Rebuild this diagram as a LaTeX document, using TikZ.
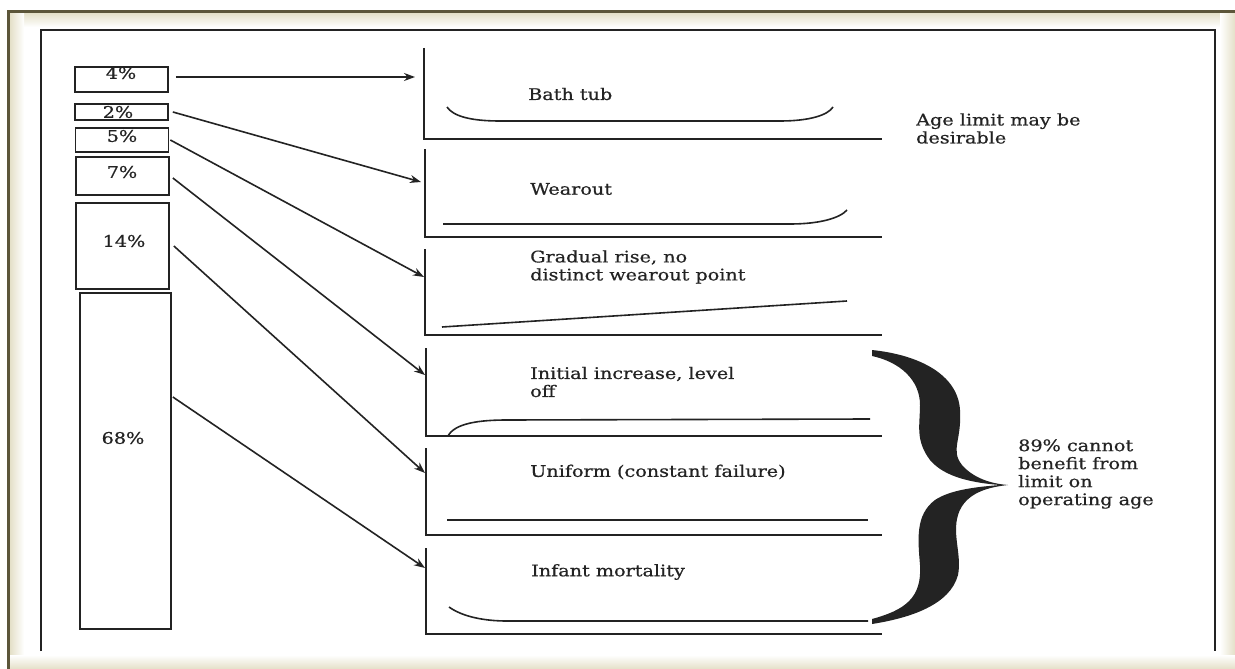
\documentclass[tikz,border=0pt]{standalone}
\usepackage{fontspec}
\setmainfont[FakeStretch=1.2,FakeBold=0.6]{DejaVu Serif}
\usetikzlibrary{arrows.meta}
\definecolor{frameolive}{RGB}{92,86,58}
\definecolor{framebeige}{RGB}{228,224,200}
\definecolor{ink}{RGB}{35,35,35}

\begin{document}
\begin{tikzpicture}[x=1pt,y=-1pt,
  pbox/.style={draw=ink,line width=1.7pt,minimum width=93pt,inner sep=0pt},
  lbl/.style={text=ink,font=\fontsize{16}{18}\selectfont,inner sep=0pt},
  txt/.style={lbl,anchor=west,align=left},
  ax/.style={draw=ink,line width=1.9pt},
  crv/.style={draw=ink,line width=1.6pt},
  arr/.style={draw=ink,line width=1.6pt,-{Stealth[length=11pt,width=8pt]}}]
\useasboundingbox (0,0) rectangle (1235,669);
% frame round the page
\fill[white] (0,0) rectangle (1235,669);
\shade[top color=framebeige,bottom color=white] (10,13) rectangle (1235,27);
\shade[left color=framebeige,right color=white] (10,13) rectangle (24,669);
\shade[left color=white,right color=framebeige] (1220,13) rectangle (1235,669);
\shade[top color=white,bottom color=framebeige] (10,655) rectangle (1235,669);
\fill[white] (24,27) rectangle (1220,655);
\fill[frameolive] (7,10) rectangle (1235,13);
\fill[frameolive] (7,10) rectangle (10,669);
\draw[ink,line width=1.5pt] (41,651) -- (41,30) -- (1215,30) -- (1215,651);

% share boxes
\node[pbox,minimum height=25pt] (b4) at (121.5,79.5) {};
\node[pbox,minimum height=16pt] (b2) at (121.5,112) {};
\node[pbox,minimum height=24pt] (b5) at (122,140) {};
\node[pbox,minimum height=38pt] (b7) at (122.5,176) {};
\node[pbox,minimum height=86pt] (b14) at (122.5,246) {};
\node[pbox,minimum height=336pt,minimum width=91pt] (b68) at (125.5,461) {};
\node[lbl] (p4) at (121,73) {4\%};
\node[lbl] (p2) at (118,112) {2\%};
\node[lbl] (p5) at (122,136) {5\%};
\node[lbl] (p7) at (122,172) {7\%};
\node[lbl] (p14) at (124,241) {14\%};
\node[lbl] (p68) at (123,438) {68\%};

% failure patterns
\draw[ax] (424,48) -- (424,139) -- (882,139);
\draw[ax] (425,149) -- (425,237) -- (882,237);
\draw[ax] (425,249) -- (425,335) -- (882,335);
\draw[ax] (426,348) -- (426,436) -- (882,436);
\draw[ax] (426,448) -- (426,535) -- (882,535);
\draw[ax] (426,548) -- (426,634) -- (882,634);
\draw[crv] (447,107) .. controls (453,116) and (470,121) .. (500,121) -- (780,121) .. controls (810,121) and (828,115) .. (833,107);
\draw[crv] (443,224) -- (790,224) .. controls (820,224) and (840,218) .. (847,210);
\draw[crv] (442,327) -- (847,301);
\draw[crv] (448,436) .. controls (455,423) and (480,420) .. (507,420) -- (870,419);
\draw[crv] (447,520) -- (868,520);
\draw[crv] (449,607) .. controls (463,617) and (485,621) .. (507,621) -- (868,621);
\node[txt] (bath) at (528,94) {Bath tub};
\node[txt] (wear) at (530,189) {Wearout};
\node[txt] (grad) at (530,267) {Gradual rise, no\\distinct wearout point};
\node[txt] (init) at (530,382) {Initial increase, level\\off};
\node[txt] (unif) at (530,472) {Uniform (constant failure)};
\node[txt] (infant) at (531,572) {Infant mortality};
\node[txt] (age) at (916,128.5) {Age limit may be\\desirable};
\node[txt] (nobenefit) at (1018,474) {89\% cannot\\benefit from\\limit on\\operating age};

\coordinate (bathin) at (415,77);
\coordinate (wearin) at (421,182);
\coordinate (gradin) at (424,277);
\coordinate (initin) at (425,375);
\coordinate (unifin) at (425,473);
\coordinate (infantin) at (425,568);
\draw[arr] ([xshift=7pt,yshift=2.5pt]b4.east) -- (bathin);
\draw[arr] ([xshift=4pt]b2.east) -- (wearin);
\draw[arr] ([xshift=1pt]b5.east) -- (gradin);
\draw[arr] ([xshift=3pt,yshift=-2pt]b7.east) -- (initin);
\draw[arr] ([xshift=4pt]b14.east) -- (unifin);
\draw[arr] ([xshift=1pt,yshift=64pt]b68.east) -- (infantin);

% brace
\fill[ink] (872,350) .. controls (920,355) and (958,375) .. (960,410)
  .. controls (962,440) and (950,450) .. (962,465)
  .. controls (975,480) and (995,484) .. (1008,485)
  .. controls (990,487) and (965,492) .. (958,515)
  .. controls (952,535) and (962,555) .. (958,575)
  .. controls (950,605) and (910,618) .. (872,624)
  -- (872,619)
  .. controls (905,610) and (922,598) .. (920,565)
  .. controls (918,540) and (915,515) .. (935,500)
  .. controls (950,490) and (975,487) .. (1000,485)
  .. controls (975,483) and (945,478) .. (930,460)
  .. controls (915,440) and (920,425) .. (920,405)
  .. controls (920,380) and (900,362) .. (872,356) -- cycle;
\end{tikzpicture}
\end{document}
